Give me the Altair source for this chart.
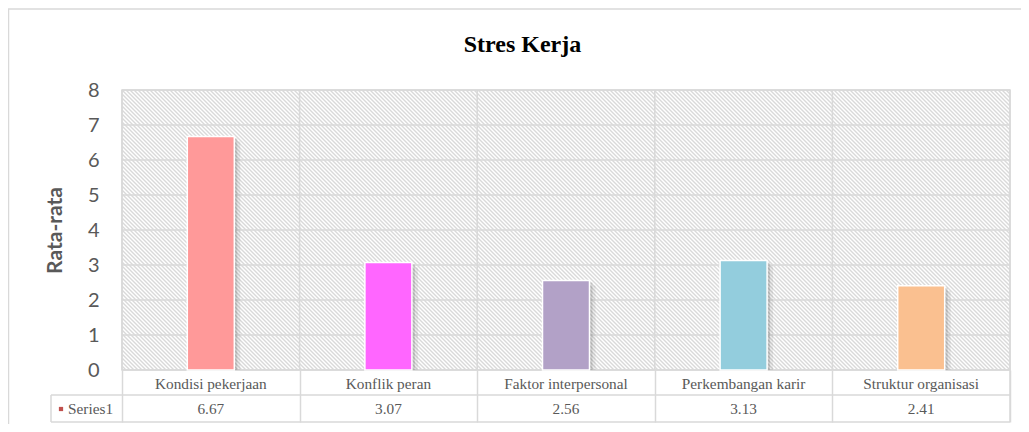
import math
import altair as alt
import pandas as pd

# ---- data ----
title_text = "Stres Kerja"
y_title = "Rata-rata"
series_name = "Series1"
categories = ["Kondisi pekerjaan", "Konflik peran", "Faktor interpersonal",
              "Perkembangan karir", "Struktur organisasi"]
values = [6.67, 3.07, 2.56, 3.13, 2.41]
bar_colors = ["#FF9999", "#FF66FF", "#B2A1C7", "#93CDDD", "#FAC090"]
y_ticks = [0, 1, 2, 3, 4, 5, 6, 7, 8]

df = pd.DataFrame({"cat": categories, "val": values,
                   "label": [f"{v:.2f}" for v in values]})
grid_df = pd.DataFrame({"val": y_ticks})
one = alt.Data(values=[{"k": 1}])

W, H = 888, 280
GRID = "#D9D9D9"
TXT = "#595959"

# ---- hatch background (diagonal stripes as a linear gradient) ----
r = H / W
den = 1 + r * r
gx2 = (1 + r) / den
gy2 = 1 - r * (1 + r) / den
L = (W + H) / math.sqrt(2)
per = (4 / math.sqrt(2)) / L
stops = []
i = 0
while i * per < 1:
    a = i * per
    b = min(1.0, a + per * 0.5)
    stops += [alt.GradientStop(offset=a, color="#D9D9D9"),
              alt.GradientStop(offset=b, color="#FFFFFF")]
    i += 1
stops.append(alt.GradientStop(offset=1.0, color="#D9D9D9"))
hatch_fill = alt.LinearGradient(gradient="linear", stops=stops,
                                x1=0, y1=1, x2=gx2, y2=gy2)

xscale = alt.Scale(domain=categories, paddingInner=0, paddingOuter=0)
xaxis = alt.Axis(title=None, labels=False, ticks=True, tickBand="extent",
                 tickSize=52, tickColor=GRID, tickWidth=1.5,
                 grid=False, domain=False)
xenc = alt.X("cat:N", sort=categories, scale=xscale, axis=xaxis)
yscale = alt.Scale(domain=[0, 8], nice=False)
yenc = alt.Y("val:Q", scale=yscale,
             axis=alt.Axis(values=y_ticks, title=y_title, labelFont="Lato",
                           labelFontSize=20, labelColor=TXT, labelPadding=23,
                           ticks=False, domain=False, grid=False,
                           titleFont="Lato", titleFontSize=21,
                           titleFontWeight="bold", titleColor=TXT, titleX=-67,
                           titleY=140, titleAngle=270, titleAlign="center",
                           titleBaseline="middle"))

base = alt.Chart(df)

border = alt.Chart(one).mark_rect(fill="#FFFFFF", fillOpacity=0, stroke=GRID,
                                  strokeWidth=1.5).encode(
    x=alt.value(-113.5), x2=alt.value(905), y=alt.value(-81), y2=alt.value(360))

hatch = alt.Chart(one).mark_rect(fill=hatch_fill, stroke=GRID,
                                 strokeWidth=1.5).encode(
    x=alt.value(0), x2=alt.value(W), y=alt.value(0), y2=alt.value(H))

hgrid = alt.Chart(grid_df).mark_rule(color=GRID, strokeWidth=1.5).encode(
    y=yenc, x=alt.value(0), x2=alt.value(W))
vgrid = base.mark_rule(color=GRID, strokeWidth=1.5).encode(
    x=alt.X("cat:N", sort=categories, scale=xscale, bandPosition=0, axis=xaxis),
    y=alt.value(0), y2=alt.value(H))
rgrid = alt.Chart(one).mark_rule(color=GRID, strokeWidth=1.5).encode(
    x=alt.value(W), y=alt.value(0), y2=alt.value(332))

shadow1 = base.mark_bar(width=47, xOffset=6, yOffset=5, color="#000000",
                        opacity=0.07, clip=True).encode(x=xenc, y=yenc)
shadow2 = base.mark_bar(width=47, xOffset=3, yOffset=2, color="#000000",
                        opacity=0.12, clip=True).encode(x=xenc, y=yenc)
bars = base.mark_bar(width=47, stroke="#FFFFFF", strokeWidth=1.5).encode(
    x=xenc, y=yenc,
    color=alt.Color("cat:N", scale=alt.Scale(domain=categories, range=bar_colors),
                    legend=None))

title = alt.Chart(one).mark_text(text=title_text, font="Liberation Serif",
                                 fontSize=24, fontWeight="bold", color="#000000",
                                 align="center", baseline="alphabetic").encode(
    x=alt.value(400.5), y=alt.value(-38))

cat_text = base.mark_text(font="Liberation Serif", fontSize=15.3, color=TXT,
                          baseline="middle", align="center").encode(
    x=xenc, y=alt.value(294), text="cat:N")
val_text = base.mark_text(font="Liberation Serif", fontSize=15.3, color=TXT,
                          baseline="middle", align="center").encode(
    x=xenc, y=alt.value(319), text="label:N")

series_txt = alt.Chart(one).mark_text(text=series_name, font="Liberation Serif",
                                      fontSize=15.3, color=TXT, baseline="middle",
                                      align="left").encode(
    x=alt.value(-54), y=alt.value(319))
series_sq = alt.Chart(one).mark_square(size=18, color="#C0504D", filled=True,
                                       opacity=1).encode(
    x=alt.value(-61), y=alt.value(319))

row_line = alt.Chart(one).mark_rule(color=GRID, strokeWidth=1.5).encode(
    x=alt.value(-71), x2=alt.value(W), y=alt.value(305))
bot_line = alt.Chart(one).mark_rule(color=GRID, strokeWidth=1.5).encode(
    x=alt.value(-71), x2=alt.value(W), y=alt.value(332))
left_line = alt.Chart(one).mark_rule(color=GRID, strokeWidth=1.5).encode(
    x=alt.value(-71), y=alt.value(305), y2=alt.value(332))

chart = alt.layer(
    border, hatch, hgrid, vgrid, rgrid, shadow1, shadow2, bars, title,
    cat_text, val_text, row_line, bot_line, left_line, series_sq, series_txt
).properties(
    width=W, height=H,
    padding={"left": 114, "top": 82, "right": 11, "bottom": 54},
    autosize=alt.AutoSizeParams(type="none"),
    background="#FFFFFF",
).configure_view(stroke=None)

chart.save("out.html", embed_options={"renderer": "svg", "actions": False})
